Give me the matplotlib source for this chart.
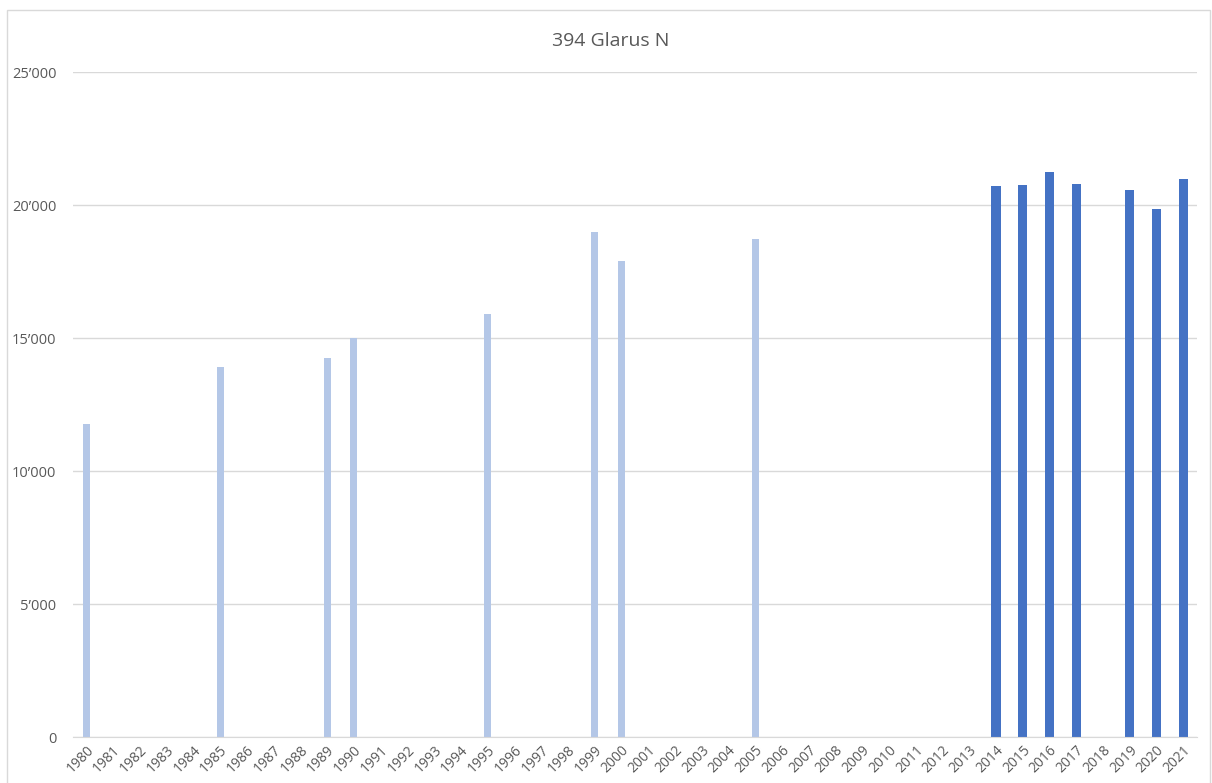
### 394 Glarus N - yearly bars ###
import numpy as np
import matplotlib.pyplot as plt
from matplotlib.patches import Rectangle

years = list(range(1980, 2022))

# older counts (light series), missing years stay 0
old_years = [1980, 1985, 1989, 1990, 1995, 1999, 2000, 2005]
old_values = [11780, 13900, 14250, 15020, 15900, 18970, 17900, 18710]

# recent counts (dark series)
new_years = [2014, 2015, 2016, 2017, 2019, 2020, 2021]
new_values = [20730, 20760, 21240, 20790, 20550, 19860, 20990]

yticks = [0, 5000, 10000, 15000, 20000, 25000]

plt.rcParams['font.family'] = ['Open Sans', 'DejaVu Sans']

fig = plt.figure(figsize=(12.12, 7.83), dpi=100)
ax = fig.add_axes([0.0602, 0.0587, 0.9271, 0.8493])

x = np.arange(len(years))
pos_old = [years.index(y) for y in old_years]
pos_new = [years.index(y) for y in new_years]

ax.bar(pos_old, old_values, width=0.26, color="#B4C7E7", zorder=3)
ax.bar(pos_new, new_values, width=0.34, color="#4472C4", zorder=3)

ax.set_xlim(-0.5, len(years) - 0.5)
ax.set_ylim(0, 25000)
ax.set_yticks(yticks)
ax.set_yticklabels([f"{v:,.0f}".replace(",", "\u2019") for v in yticks],
                   fontsize=10.5, color="#595959")
ax.set_xticks(x)
ax.set_xticklabels([str(y) for y in years], rotation=45, ha="right",
                   rotation_mode="anchor", fontsize=10, color="#595959")
ax.tick_params(axis="both", length=0)
ax.tick_params(axis="y", pad=12)
ax.tick_params(axis="x", pad=4)

ax.grid(axis="y", color="#D9D9D9", linewidth=1, zorder=0)
for s in ["top", "right", "left"]:
    ax.spines[s].set_visible(False)
ax.spines["bottom"].set_color("#D9D9D9")
ax.spines["bottom"].set_zorder(4)

fig.text(0.504, 0.948, "394 Glarus N", ha="center", va="center",
         fontsize=14, color="#595959")

# chart border like the spreadsheet frame
fig.patches.append(Rectangle((7 / 1212, -0.01), 1203 / 1212, 1 - 10 / 783 + 0.01,
                             transform=fig.transFigure, fill=False,
                             edgecolor="#D9D9D9", linewidth=1))

plt.savefig("out.png", dpi=100)
